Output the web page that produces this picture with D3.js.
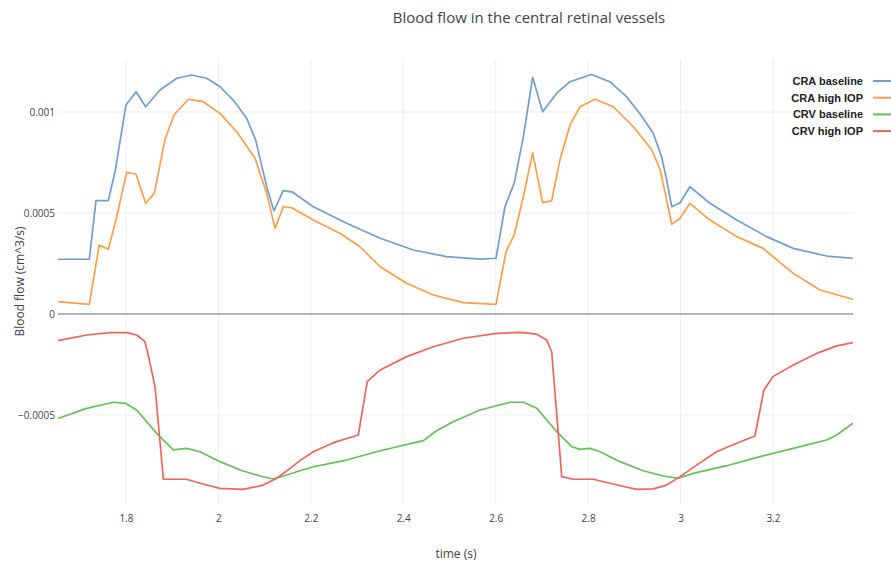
<!DOCTYPE html>
<html><head><meta charset="utf-8">
<script src="https://cdn.jsdelivr.net/npm/d3@7"></script>
<style>body{margin:0;background:#fff}svg{display:block}</style>
</head><body>
<svg id="chart" width="891" height="562"></svg>
<script>
const seriesNames = ["CRA baseline", "CRA high IOP", "CRV baseline", "CRV high IOP"];
const seriesColors = ["#729ECE", "#FF9E4A", "#67BF5C", "#ED665D"];
const xTicks = [1.8, 2, 2.2, 2.4, 2.6, 2.8, 3, 3.2];
const yTicks = [-0.0005, 0, 0.0005, 0.001];
const yTickLabels = ["\u22120.0005", "0", "0.0005", "0.001"];

const craBaseline = [
[1.653,2.71e-4],[1.7206,2.71e-4],[1.735,5.61e-4],[1.7617,5.61e-4],[1.777,7.13e-4],[1.800,10.35e-4],
[1.8216,11.0e-4],[1.8426,10.26e-4],[1.8736,11.09e-4],[1.91,11.67e-4],[1.942,11.83e-4],[1.9746,11.67e-4],
[2.0034,11.25e-4],[2.032,10.59e-4],[2.061,9.69e-4],[2.0807,8.61e-4],[2.1045,6.30e-4],[2.12,5.11e-4],
[2.1404,6.11e-4],[2.1607,6.03e-4],[2.2053,5.31e-4],[2.2776,4.49e-4],[2.35,3.75e-4],[2.4217,3.17e-4],
[2.494,2.84e-4],[2.566,2.72e-4],[2.6007,2.76e-4],[2.62,5.31e-4],[2.64,6.47e-4],[2.66,8.78e-4],
[2.680,11.72e-4],[2.7017,10.01e-4],[2.732,10.93e-4],[2.761,11.5e-4],[2.807,11.86e-4],[2.847,11.5e-4],
[2.883,10.76e-4],[2.912,9.93e-4],[2.941,8.95e-4],[2.959,7.79e-4],[2.97,6.63e-4],[2.981,5.31e-4],
[2.999,5.51e-4],[3.0205,6.30e-4],[3.0638,5.48e-4],[3.1216,4.65e-4],[3.1865,3.83e-4],[3.244,3.25e-4],
[3.316,2.87e-4],[3.373,2.76e-4]
];
const craHighIOP = [
[1.653,0.61e-4],[1.7206,0.48e-4],[1.742,3.42e-4],[1.7617,3.20e-4],[1.78,4.82e-4],[1.8015,7.01e-4],
[1.8216,6.92e-4],[1.8426,5.48e-4],[1.8613,5.97e-4],[1.884,8.61e-4],[1.9039,9.85e-4],[1.935,10.63e-4],
[1.967,10.51e-4],[2.0034,9.93e-4],[2.0396,9.02e-4],[2.0792,7.71e-4],[2.1045,5.97e-4],[2.1225,4.24e-4],
[2.1404,5.31e-4],[2.1586,5.26e-4],[2.2053,4.65e-4],[2.263,4.0e-4],[2.3064,3.33e-4],[2.35,2.34e-4],
[2.4074,1.52e-4],[2.465,0.94e-4],[2.53,0.56e-4],[2.6007,0.48e-4],[2.6223,3.08e-4],[2.64,3.91e-4],
[2.66,5.81e-4],[2.680,7.99e-4],[2.7017,5.51e-4],[2.7212,5.61e-4],[2.739,7.62e-4],[2.761,9.36e-4],
[2.7825,10.26e-4],[2.815,10.63e-4],[2.8545,10.26e-4],[2.898,9.27e-4],[2.938,8.12e-4],[2.956,7.13e-4],
[2.97,5.64e-4],[2.981,4.44e-4],[2.999,4.74e-4],[3.0205,5.48e-4],[3.0638,4.65e-4],[3.1216,3.83e-4],
[3.179,3.25e-4],[3.2,2.84e-4],[3.244,2.01e-4],[3.302,1.19e-4],[3.373,0.73e-4]
];
const crvBaseline = [
[1.653,-5.17e-4],[1.715,-4.67e-4],[1.7725,-4.37e-4],[1.798,-4.42e-4],[1.823,-4.75e-4],[1.8664,-5.91e-4],
[1.9024,-6.73e-4],[1.931,-6.65e-4],[1.96,-6.82e-4],[2.0034,-7.31e-4],[2.047,-7.72e-4],[2.09,-8.02e-4],
[2.1188,-8.17e-4],[2.1477,-7.97e-4],[2.1766,-7.76e-4],[2.2053,-7.56e-4],[2.2776,-7.23e-4],[2.35,-6.77e-4],
[2.4436,-6.27e-4],[2.472,-5.78e-4],[2.508,-5.33e-4],[2.566,-4.75e-4],[2.631,-4.37e-4],[2.66,-4.37e-4],
[2.689,-4.67e-4],[2.732,-5.82e-4],[2.7645,-6.57e-4],[2.7825,-6.70e-4],[2.804,-6.65e-4],[2.826,-6.82e-4],
[2.869,-7.31e-4],[2.9195,-7.76e-4],[2.963,-8.02e-4],[2.995,-8.13e-4],[3.0277,-7.89e-4],[3.1,-7.51e-4],
[3.172,-7.06e-4],[3.244,-6.65e-4],[3.316,-6.24e-4],[3.338,-5.99e-4],[3.373,-5.41e-4]
];
const crvHighIOP = [
[1.653,-1.32e-4],[1.715,-1.04e-4],[1.7654,-0.92e-4],[1.8015,-0.92e-4],[1.823,-1.04e-4],[1.841,-1.37e-4],
[1.8505,-2.28e-4],[1.8628,-3.6e-4],[1.8808,-8.18e-4],[1.931,-8.18e-4],[1.96,-8.38e-4],[2.0034,-8.63e-4],
[2.054,-8.68e-4],[2.097,-8.47e-4],[2.126,-8.13e-4],[2.155,-7.64e-4],[2.1766,-7.26e-4],[2.2053,-6.82e-4],
[2.249,-6.37e-4],[2.3027,-5.99e-4],[2.3222,-3.35e-4],[2.35,-2.77e-4],[2.4074,-2.11e-4],[2.465,-1.62e-4],
[2.53,-1.2e-4],[2.6022,-0.96e-4],[2.6527,-0.91e-4],[2.689,-1.0e-4],[2.7105,-1.29e-4],[2.7212,-1.87e-4],
[2.743,-8.05e-4],[2.768,-8.18e-4],[2.8113,-8.18e-4],[2.847,-8.38e-4],[2.905,-8.68e-4],[2.941,-8.66e-4],
[2.97,-8.47e-4],[2.999,-8.05e-4],[3.035,-7.48e-4],[3.078,-6.82e-4],[3.1216,-6.4e-4],[3.161,-6.04e-4],
[3.1806,-3.76e-4],[3.2,-3.1e-4],[3.244,-2.52e-4],[3.2945,-1.95e-4],[3.338,-1.58e-4],[3.373,-1.42e-4]
];
const allSeries = [craBaseline, craHighIOP, crvBaseline, crvHighIOP];

const plot = {left: 58, right: 853, top: 59, bottom: 504};
const svg = d3.select("#chart");
const font = "'Open Sans', 'Noto Sans', Arial, sans-serif";

const x = d3.scaleLinear().domain([1.6528, 3.3733]).range([plot.left, plot.right]);
const y = d3.scaleLinear().domain([-0.0009406, 0.0012624]).range([plot.bottom, plot.top]);

// grid
const g = svg.append("g");
g.selectAll("line.vg").data(xTicks).join("line")
  .attr("x1", d => x(d)).attr("x2", d => x(d))
  .attr("y1", plot.top).attr("y2", plot.bottom)
  .attr("stroke", "#eeeeee").attr("stroke-width", 1);
g.selectAll("line.hg").data(yTicks.filter(d => d !== 0)).join("line")
  .attr("x1", plot.left).attr("x2", plot.right)
  .attr("y1", d => y(d)).attr("y2", d => y(d))
  .attr("stroke", "#eeeeee").attr("stroke-width", 1);

// x axis labels
const xAxis = d3.axisBottom(x).tickValues(xTicks).tickSize(0).tickPadding(0)
  .tickFormat(d3.format("~g"));
svg.append("g").attr("transform", `translate(0,${plot.bottom + 11})`).call(xAxis)
  .call(a => a.select(".domain").remove())
  .selectAll("text").attr("font-family", font).attr("font-size", 10).attr("fill", "#444");

// y axis labels
const yAxis = d3.axisLeft(y).tickValues(yTicks).tickSize(0).tickPadding(0)
  .tickFormat((d, i) => yTickLabels[i]);
svg.append("g").attr("transform", `translate(${plot.left - 3},0)`).call(yAxis)
  .call(a => a.select(".domain").remove())
  .selectAll("text").attr("font-family", font).attr("font-size", 10).attr("fill", "#444");

// zero line
svg.append("line").attr("x1", plot.left).attr("x2", plot.right)
  .attr("y1", y(0)).attr("y2", y(0)).attr("stroke", "#b4b4b4").attr("stroke-width", 2);

// lines
const line = d3.line().x(d => x(d[0])).y(d => y(d[1]));
svg.append("g").selectAll("path").data(allSeries).join("path")
  .attr("d", line).attr("fill", "none")
  .attr("stroke", (d, i) => seriesColors[i]).attr("stroke-width", 1.7)
  .attr("stroke-linejoin", "round");

// legend
const lg = svg.append("g");
seriesNames.forEach((name, i) => {
  const yy = 81 + i * 16.7;
  lg.append("text").attr("x", 863).attr("y", yy).attr("dy", "0.35em")
    .attr("text-anchor", "end").attr("font-family", "'Liberation Sans', Arial, sans-serif")
    .attr("font-weight", "bold").attr("font-size", 11).attr("fill", "#222").text(name);
  lg.append("line").attr("x1", 873).attr("x2", 903).attr("y1", yy).attr("y2", yy)
    .attr("stroke", seriesColors[i]).attr("stroke-width", 2);
});

// titles
svg.append("text").attr("x", 529).attr("y", 23).attr("text-anchor", "middle")
  .attr("font-family", font).attr("font-size", 15).attr("fill", "#444")
  .text("Blood flow in the central retinal vessels");
svg.append("text").attr("x", 456).attr("y", 558).attr("text-anchor", "middle")
  .attr("font-family", font).attr("font-size", 12).attr("fill", "#444").text("time (s)");
svg.append("text").attr("transform", `translate(24,${(plot.top + plot.bottom) / 2}) rotate(-90)`)
  .attr("text-anchor", "middle").attr("font-family", font).attr("font-size", 12)
  .attr("fill", "#444").text("Blood flow (cm^3/s)");
</script>
</body></html>
